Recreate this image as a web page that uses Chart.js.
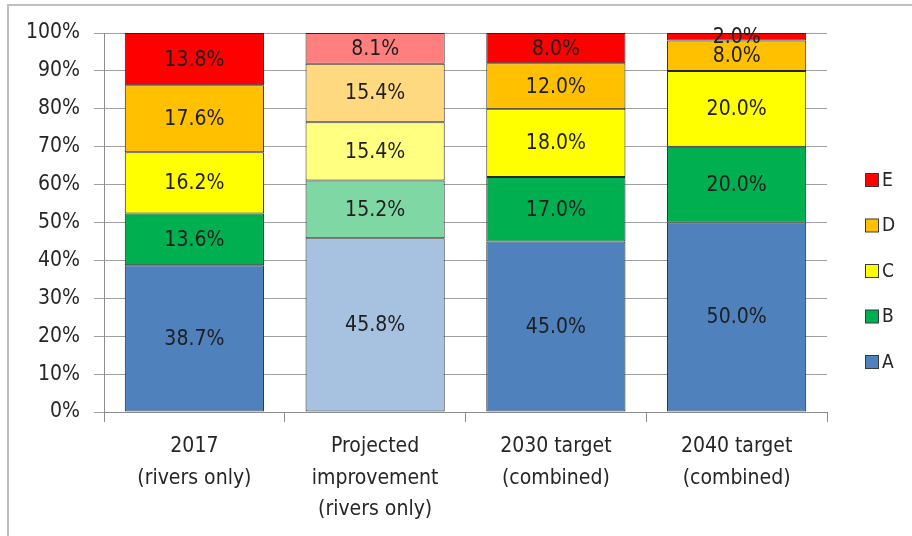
<!DOCTYPE html>
<html>
<head>
<meta charset="utf-8">
<script src="https://cdn.jsdelivr.net/npm/chart.js@4/dist/chart.umd.min.js"></script>
<style>
  html, body { margin: 0; padding: 0; background: #fff; overflow: hidden; }
  #frame { position: absolute; left: 7px; top: 4px; width: 1000px; height: 1000px; border: 2px solid #bfbfbf; }
  #wrap { position: absolute; left: 0; top: 0; width: 912px; height: 536px; }
</style>
</head>
<body>
<div id="frame"></div>
<div id="wrap"><canvas id="chart" width="912" height="536"></canvas></div>
<script>
// categorias y series
const categories = [
    ['2017', '(rivers only)'],
    ['Projected', 'improvement', '(rivers only)'],
    ['2030 target', '(combined)'],
    ['2040 target', '(combined)']
];
const seriesNames = ['A', 'B', 'C', 'D', 'E'];
const valuesA = [38.7, 45.8, 45.0, 50.0];
const valuesB = [13.6, 15.2, 17.0, 20.0];
const valuesC = [16.2, 15.4, 18.0, 20.0];
const valuesD = [17.6, 15.4, 12.0, 8.0];
const valuesE = [13.8, 8.1, 8.0, 2.0];
const yTickValues = [0, 10, 20, 30, 40, 50, 60, 70, 80, 90, 100];

const baseColors = ['#4f81bd', '#00b050', '#ffff00', '#ffc000', '#ff0000'];
const lightColors = ['#a7c1e0', '#7fd7a3', '#ffff80', '#ffd97f', '#ff7f7f'];
const FONT = '"DejaVu Sans Condensed", "DejaVu Sans", sans-serif';

const allValues = [valuesA, valuesB, valuesC, valuesD, valuesE];
// 100% apilado: normalizar cada columna
const totals = categories.map((c, i) => allValues.reduce((s, v) => s + v[i], 0));

const datasets = allValues.map((vals, k) => ({
    label: seriesNames[k],
    data: vals.map((v, i) => v / totals[i] * 100),
    raw: vals,
    backgroundColor: vals.map((v, i) => i === 1 ? lightColors[k] : baseColors[k]),
    borderColor: '#262626',
    borderWidth: 1,
    borderSkipped: false,
    barPercentage: 0.77,
    categoryPercentage: 1
}));

// etiquetas de valor dentro de cada segmento
const barLabels = {
    id: 'barLabels',
    afterDatasetsDraw(chart) {
        const ctx = chart.ctx;
        ctx.save();
        ctx.font = '21px ' + FONT;
        ctx.fillStyle = '#1e1e1e';
        ctx.textAlign = 'center';
        ctx.textBaseline = 'middle';
        chart.data.datasets.forEach((ds, k) => {
            chart.getDatasetMeta(k).data.forEach((bar, i) => {
                const p = bar.getCenterPoint();
                ctx.fillText(ds.raw[i].toFixed(1) + '%', p.x, p.y + 1);
            });
        });
        ctx.restore();
    }
};

// leyenda a la derecha, orden inverso (E arriba)
const sideLegend = {
    id: 'sideLegend',
    afterDraw(chart) {
        const ctx = chart.ctx;
        ctx.save();
        ctx.font = '19px ' + FONT;
        ctx.textBaseline = 'middle';
        const n = chart.data.datasets.length;
        for (let j = 0; j < n; j++) {
            const ds = chart.data.datasets[n - 1 - j];
            const cy = 180 + j * 45.5;
            ctx.fillStyle = baseColors[n - 1 - j];
            ctx.fillRect(865.5, cy - 6.5, 13, 13);
            ctx.strokeStyle = '#3a3a3a';
            ctx.lineWidth = 1;
            ctx.strokeRect(865.5, cy - 6.5, 13, 13);
            ctx.fillStyle = '#262626';
            ctx.fillText(ds.label, 882, cy + 1);
        }
        ctx.restore();
    }
};

new Chart(document.getElementById('chart'), {
    type: 'bar',
    data: { labels: categories, datasets: datasets },
    options: {
        responsive: false,
        animation: false,
        layout: { padding: { left: 0, top: 33, right: 85, bottom: 0 } },
        plugins: { legend: { display: false }, tooltip: { enabled: false } },
        scales: {
            x: {
                stacked: true,
                grid: { drawOnChartArea: false, drawTicks: true, tickLength: 10, color: '#8c8c8c', offset: true },
                border: { color: '#8c8c8c', width: 1 },
                ticks: { font: { family: FONT, size: 21, lineHeight: 1.5 }, color: '#262626', padding: 9, maxRotation: 0, autoSkip: false },
                afterFit: s => { s.height = 124; }
            },
            y: {
                stacked: true,
                min: 0,
                max: 100,
                afterBuildTicks: s => { s.ticks = yTickValues.map(v => ({ value: v })); },
                grid: { color: '#a0a0a0', tickLength: 10 },
                border: { color: '#8c8c8c', width: 1 },
                ticks: { font: { family: FONT, size: 21 }, color: '#262626', padding: 14, callback: v => v + '%' },
                afterFit: s => { s.width = 104; }
            }
        }
    },
    plugins: [barLabels, sideLegend]
});
</script>
</body>
</html>
